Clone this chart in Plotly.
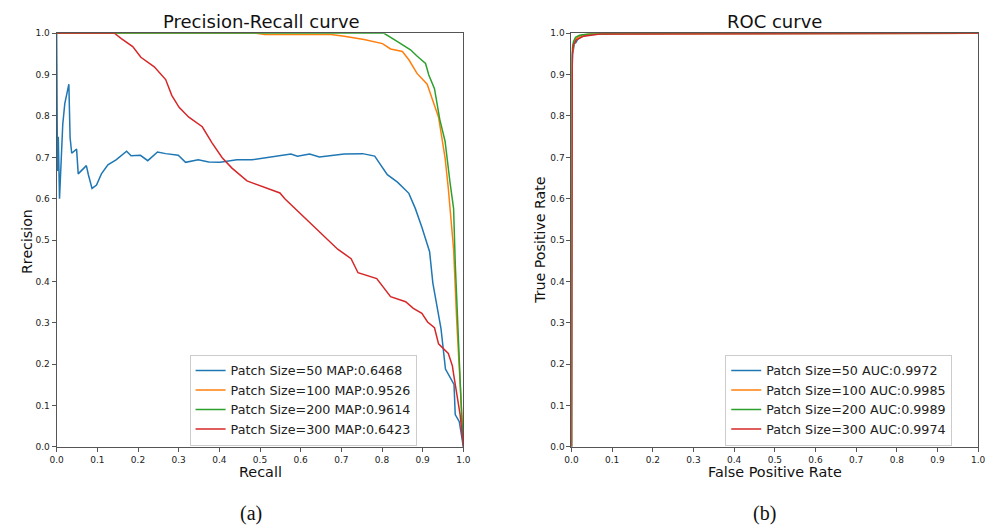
import plotly.graph_objects as go

# ---------------- data ----------------
pr50_recall = [0.0, 0.002, 0.004, 0.007, 0.015, 0.020, 0.030, 0.033, 0.037, 0.049, 0.053, 0.073, 0.078,
               0.087, 0.098, 0.110, 0.126, 0.146, 0.172, 0.183, 0.206, 0.224, 0.248, 0.268, 0.299,
               0.317, 0.348, 0.374, 0.402, 0.443, 0.480, 0.529, 0.576, 0.592, 0.622, 0.646, 0.707,
               0.752, 0.782, 0.813, 0.838, 0.866, 0.882, 0.898, 0.917, 0.925, 0.935, 0.945, 0.956,
               0.977, 0.980, 0.990, 1.0]
pr50_precision = [1.0, 0.667, 0.75, 0.60, 0.78, 0.83, 0.877, 0.748, 0.71, 0.72, 0.66, 0.68, 0.658,
                  0.625, 0.633, 0.66, 0.682, 0.694, 0.715, 0.704, 0.705, 0.692, 0.713, 0.709, 0.705,
                  0.688, 0.694, 0.689, 0.688, 0.694, 0.694, 0.701, 0.708, 0.703, 0.708, 0.701, 0.708,
                  0.709, 0.703, 0.658, 0.640, 0.613, 0.576, 0.531, 0.472, 0.396, 0.339, 0.286, 0.188,
                  0.151, 0.078, 0.061, 0.0]

pr100_recall = [0.0, 0.49, 0.512, 0.675, 0.707, 0.756, 0.801, 0.821, 0.850, 0.866, 0.886, 0.911,
                0.925, 0.939, 0.947, 0.955, 0.963, 0.969, 0.976, 0.984, 0.992, 1.0]
pr100_precision = [1.0, 1.0, 0.997, 0.997, 0.993, 0.985, 0.975, 0.962, 0.956, 0.936, 0.903, 0.877,
                   0.837, 0.797, 0.748, 0.699, 0.625, 0.565, 0.478, 0.298, 0.159, 0.012]

pr200_recall = [0.0, 0.805, 0.838, 0.870, 0.886, 0.907, 0.915, 0.929, 0.942, 0.955, 0.967, 0.976,
                0.980, 0.988, 0.996, 1.0]
pr200_precision = [1.0, 1.0, 0.980, 0.960, 0.945, 0.927, 0.899, 0.866, 0.792, 0.739, 0.641, 0.576,
                   0.445, 0.241, 0.069, 0.01]

pr300_recall = [0.0, 0.142, 0.159, 0.187, 0.207, 0.240, 0.268, 0.283, 0.301, 0.325, 0.358, 0.382,
                0.407, 0.431, 0.468, 0.549, 0.561, 0.634, 0.691, 0.724, 0.741, 0.787, 0.821, 0.858,
                0.877, 0.898, 0.912, 0.929, 0.939, 0.963, 0.973, 0.976, 0.982, 0.992, 1.0]
pr300_precision = [1.0, 1.0, 0.987, 0.968, 0.942, 0.919, 0.888, 0.850, 0.821, 0.797, 0.774, 0.735,
                   0.699, 0.674, 0.643, 0.614, 0.600, 0.531, 0.478, 0.455, 0.421, 0.407, 0.363, 0.351,
                   0.335, 0.323, 0.302, 0.288, 0.249, 0.226, 0.196, 0.176, 0.135, 0.078, 0.0]

roc50_fpr = [0.0, 0.0, 0.001, 0.003, 0.007, 0.011, 0.015, 0.025, 0.043, 0.1, 0.3, 1.0]
roc50_tpr = [0.0, 0.80, 0.90, 0.95, 0.975, 0.978, 0.985, 0.992, 0.997, 0.999, 1.0, 1.0]
roc100_fpr = [0.0, 0.0, 0.002, 0.006, 0.012, 0.025, 0.05, 1.0]
roc100_tpr = [0.0, 0.90, 0.95, 0.975, 0.988, 0.995, 0.999, 1.0]
roc200_fpr = [0.0, 0.0, 0.002, 0.005, 0.010, 0.020, 0.040, 0.1, 1.0]
roc200_tpr = [0.0, 0.93, 0.965, 0.980, 0.990, 0.995, 0.998, 0.9995, 1.0]
roc300_fpr = [0.0, 0.001, 0.002, 0.005, 0.012, 0.030, 0.070, 1.0]
roc300_tpr = [0.0, 0.60, 0.95, 0.973, 0.984, 0.993, 0.998, 1.0]

pr_labels = ["Patch Size=50 MAP:0.6468", "Patch Size=100 MAP:0.9526",
             "Patch Size=200 MAP:0.9614", "Patch Size=300 MAP:0.6423"]
roc_labels = ["Patch Size=50 AUC:0.9972", "Patch Size=100 AUC:0.9985",
              "Patch Size=200 AUC:0.9989", "Patch Size=300 AUC:0.9974"]
colors = ["#1f77b4", "#ff7f0e", "#2ca02c", "#d62728"]
tick_vals = [0.0, 0.1, 0.2, 0.3, 0.4, 0.5, 0.6, 0.7, 0.8, 0.9, 1.0]

# ---------------- figure ----------------
W, H = 1000, 527
# measured mapping of the paper onto the screenshot
OX, SX, OY, SY = 11.0, 994.0, 17.0, 510.0


def fx(X):
    return (X - OX) / SX


def fy(Y):
    return 1 - (Y - OY) / SY


fig = go.Figure()

pr_sets = [(pr50_recall, pr50_precision), (pr100_recall, pr100_precision),
           (pr200_recall, pr200_precision), (pr300_recall, pr300_precision)]
roc_sets = [(roc50_fpr, roc50_tpr), (roc100_fpr, roc100_tpr),
            (roc200_fpr, roc200_tpr), (roc300_fpr, roc300_tpr)]

for (x, y), name, c in zip(pr_sets, pr_labels, colors):
    fig.add_trace(go.Scatter(x=x, y=y, mode="lines", name=name, line=dict(color=c, width=1.5),
                             xaxis="x", yaxis="y", legend="legend"))
for (x, y), name, c in zip(roc_sets, roc_labels, colors):
    fig.add_trace(go.Scatter(x=x, y=y, mode="lines", name=name, line=dict(color=c, width=1.5),
                             xaxis="x2", yaxis="y2", legend="legend2"))

ydom = [fy(445), fy(37)]
axis_common = dict(range=[0, 1], tickvals=tick_vals, tickformat=".1f", showgrid=False,
                   zeroline=False, showline=True, mirror=True, linecolor="#555", linewidth=1,
                   ticks="outside", ticklen=4, tickcolor="#555", tickwidth=1,
                   tickfont=dict(family="DejaVu Sans", size=9, color="#222"), fixedrange=True)

leg_common = dict(font=dict(family="DejaVu Sans", size=12.7, color="#222"),
                  bgcolor="rgba(255,255,255,0.8)", bordercolor="#ccc", borderwidth=1,
                  xanchor="left", yanchor="top", tracegroupgap=0)

fig.update_layout(
    width=W, height=H, margin=dict(l=0, r=0, t=0, b=0),
    paper_bgcolor="white", plot_bgcolor="white",
    xaxis=dict(domain=[fx(53), fx(463)], anchor="y", **axis_common),
    yaxis=dict(domain=ydom, anchor="x", **axis_common),
    xaxis2=dict(domain=[fx(572), fx(982)], anchor="y2", **axis_common),
    yaxis2=dict(domain=ydom, anchor="x2", **axis_common),
    legend=dict(x=fx(187), y=fy(354), **leg_common),
    legend2=dict(x=fx(727), y=fy(354), **leg_common),
    showlegend=True,
)


def ann(text, x, y, size, family="DejaVu Sans", angle=0):
    fig.add_annotation(text=text, x=fx(x), y=fy(y), xref="paper", yref="paper",
                       showarrow=False, xanchor="center", yanchor="middle", textangle=angle,
                       font=dict(family=family, size=size, color="#111"))


ann("Precision-Recall curve", 259, 25, 18)
ann("ROC curve", 777, 25, 18)
ann("Recall", 258, 470, 14.4)
ann("False Positive Rate", 777, 470, 14.4)
ann("Rrecision", 23, 242, 14.2, angle=-90)
ann("True Positive Rate", 540, 241, 14.2, angle=-90)
ann("(a)", 249, 511, 20, family="Liberation Serif")
ann("(b)", 767, 511, 20, family="Liberation Serif")

fig.write_html("out.html")
